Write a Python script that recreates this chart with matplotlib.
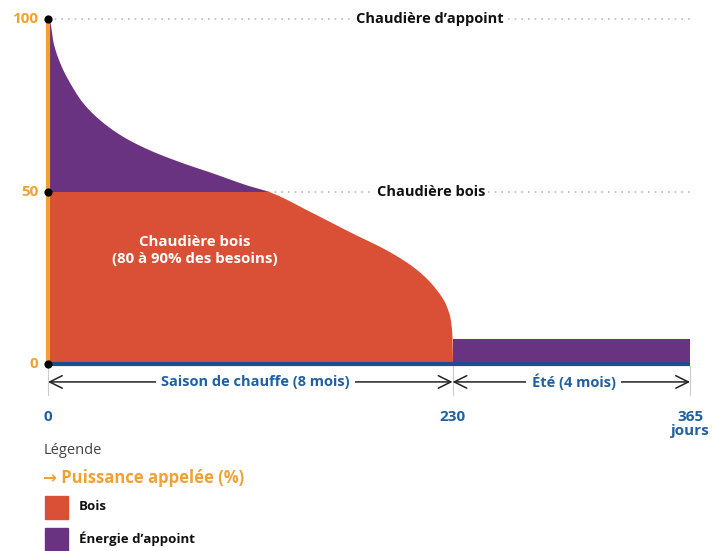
import numpy as np
import matplotlib
matplotlib.use("Agg")
import matplotlib.pyplot as plt
from matplotlib.patches import Rectangle

# load duration curve (day, % of power called)
days = [0, 0.7, 3, 6.8, 12.5, 20, 29.6, 42.8, 58, 75, 94, 113, 126,
        149, 172, 194, 210, 221, 227.4, 229.6, 230]
power = [100, 99.7, 93, 87.2, 81.4, 75.6, 70.7, 65.9, 62, 58.6, 55.3, 51.9, 49.9,
         44.2, 38.2, 32.6, 27.2, 21.4, 15.5, 9, 0]
summer_start, summer_end = 230, 365
summer_power = 7.3
wood_cap = 50

y_ticks = [0, 50, 100]
x_ticks = [0, 230, 365]
x_tick_labels = ["0", "230", "365\njours"]

ORANGE = "#F0A132"
RED = "#DA5036"
PURPLE = "#6A3381"
BLUE = "#2060A0"
DARK_BLUE = "#1C4E8E"
FONT = ["Open Sans", "DejaVu Sans"]


def pchip(x, y, xn):
    # monotone cubic interpolation (Fritsch-Carlson)
    x = np.asarray(x, float)
    y = np.asarray(y, float)
    h = np.diff(x)
    delta = np.diff(y) / h
    m = np.zeros_like(y)
    for k in range(1, len(x) - 1):
        if delta[k - 1] * delta[k] > 0:
            w1 = 2 * h[k] + h[k - 1]
            w2 = h[k] + 2 * h[k - 1]
            m[k] = (w1 + w2) / (w1 / delta[k - 1] + w2 / delta[k])
    m[0] = delta[0]
    m[-1] = delta[-1]
    idx = np.clip(np.searchsorted(x, xn) - 1, 0, len(x) - 2)
    t = (xn - x[idx]) / h[idx]
    h00 = 2 * t**3 - 3 * t**2 + 1
    h10 = t**3 - 2 * t**2 + t
    h01 = -2 * t**3 + 3 * t**2
    h11 = t**3 - t**2
    return h00 * y[idx] + h10 * h[idx] * m[idx] + h01 * y[idx + 1] + h11 * h[idx] * m[idx + 1]


W, H = 712, 551
fig = plt.figure(figsize=(W / 100, H / 100), dpi=100)
ax = fig.add_axes([0, 0, 1, 1])
# 0 day -> 48px, 365 days -> 690px ; 0% -> 364px from top, 100% -> 19px
sx = (690 - 48) / 365
sy = (364 - 19) / 100
ax.set_xlim(-48 / sx, (W - 48) / sx)
ax.set_ylim(-(H - 364) / sy, 364 / sy)
ax.axis("off")

xs = np.linspace(0, 230, 1500)
ys = pchip(days, power, xs)

wood = np.minimum(ys, wood_cap)
ax.fill_between(xs, 0, wood, color=RED, lw=0, zorder=2)
ax.fill_between(xs, wood_cap, ys, where=ys >= wood_cap, color=PURPLE, lw=0, zorder=2)
ax.fill_between([summer_start, summer_end], 0, summer_power, color=PURPLE, lw=0, zorder=2)

# dotted reference lines
for yv in [50, 100]:
    ax.plot([0, 365], [yv, yv], color="#bbbbbb", lw=1.2, ls=(0, (1, 3)), zorder=1)
ax.text(217, 100, "Chaudière d\u2019appoint", ha="center", va="center", fontsize=10.5,
        fontweight="bold", family=FONT, color="#111111",
        bbox=dict(facecolor="white", edgecolor="none", pad=2), zorder=3)
ax.text(218, 50, "Chaudière bois", ha="center", va="center", fontsize=10.5,
        fontweight="bold", family=FONT, color="#111111",
        bbox=dict(facecolor="white", edgecolor="none", pad=2), zorder=3)

ax.text(83.5, 32.8, "Chaudière bois\n(80 à 90% des besoins)", ha="center", va="center",
        fontsize=10.8, fontweight="bold", family=FONT, color="white", zorder=4,
        linespacing=1.3)

# axes
ax.plot([0, 0], [0, 100], color=ORANGE, lw=3, zorder=4, solid_capstyle="butt")
ax.plot([0, 365], [0, 0], color=DARK_BLUE, lw=3, zorder=4, solid_capstyle="butt")
ax.scatter([0] * len(y_ticks), y_ticks, s=24, color="black", zorder=5)
for yv in y_ticks:
    ax.text(-5.5, yv, str(yv), ha="right", va="center", fontsize=11,
            fontweight="bold", family=FONT, color=ORANGE)

for xv in x_ticks:
    ax.plot([xv, xv], [-0.5, -9], color="#cccccc", lw=0.8, zorder=1)

# season arrows
ay = -5.2
arrow = dict(arrowstyle="<->,head_length=0.9,head_width=0.45", color="#222222", lw=1.1,
             shrinkA=0, shrinkB=0)
ax.annotate("", xy=(0, ay), xytext=(230, ay), arrowprops=arrow, zorder=3)
ax.annotate("", xy=(230, ay), xytext=(365, ay), arrowprops=arrow, zorder=3)
ax.text(118, ay, "Saison de chauffe (8 mois)", ha="center", va="center", fontsize=10.5,
        fontweight="bold", family=FONT, color=BLUE,
        bbox=dict(facecolor="white", edgecolor="none", pad=4), zorder=4)
ax.text(299, ay, "Été (4 mois)", ha="center", va="center", fontsize=10.5,
        fontweight="bold", family=FONT, color=BLUE,
        bbox=dict(facecolor="white", edgecolor="none", pad=4), zorder=4)

for xv, lab in zip(x_ticks, x_tick_labels):
    ax.text(xv, -13.3, lab, ha="center", va="top", fontsize=11, fontweight="bold",
            family=FONT, color=BLUE, linespacing=1.05)

# legend, placed in figure pixels
def fx(px):
    return px / W

def fy(py):
    return 1 - py / H

fig.text(fx(44), fy(450), "Légende", ha="left", va="center", fontsize=10.5,
         family=FONT, color="#444444")
fig.text(fx(43), fy(478), "\u2192 Puissance appelée (%)", ha="left", va="center",
         fontsize=12, fontweight="bold", family=FONT, color=ORANGE)
legend_items = [("Bois", RED, 507), ("Énergie d\u2019appoint", PURPLE, 539)]
for lab, col, cy in legend_items:
    fig.patches.append(Rectangle((fx(45), fy(cy + 12)), 23 / W, 23 / H,
                                 transform=fig.transFigure, color=col))
    fig.text(fx(79), fy(cy), lab, ha="left", va="center", fontsize=9.5,
             fontweight="bold", family=FONT, color="#111111")

fig.savefig("out.png", dpi=100)
